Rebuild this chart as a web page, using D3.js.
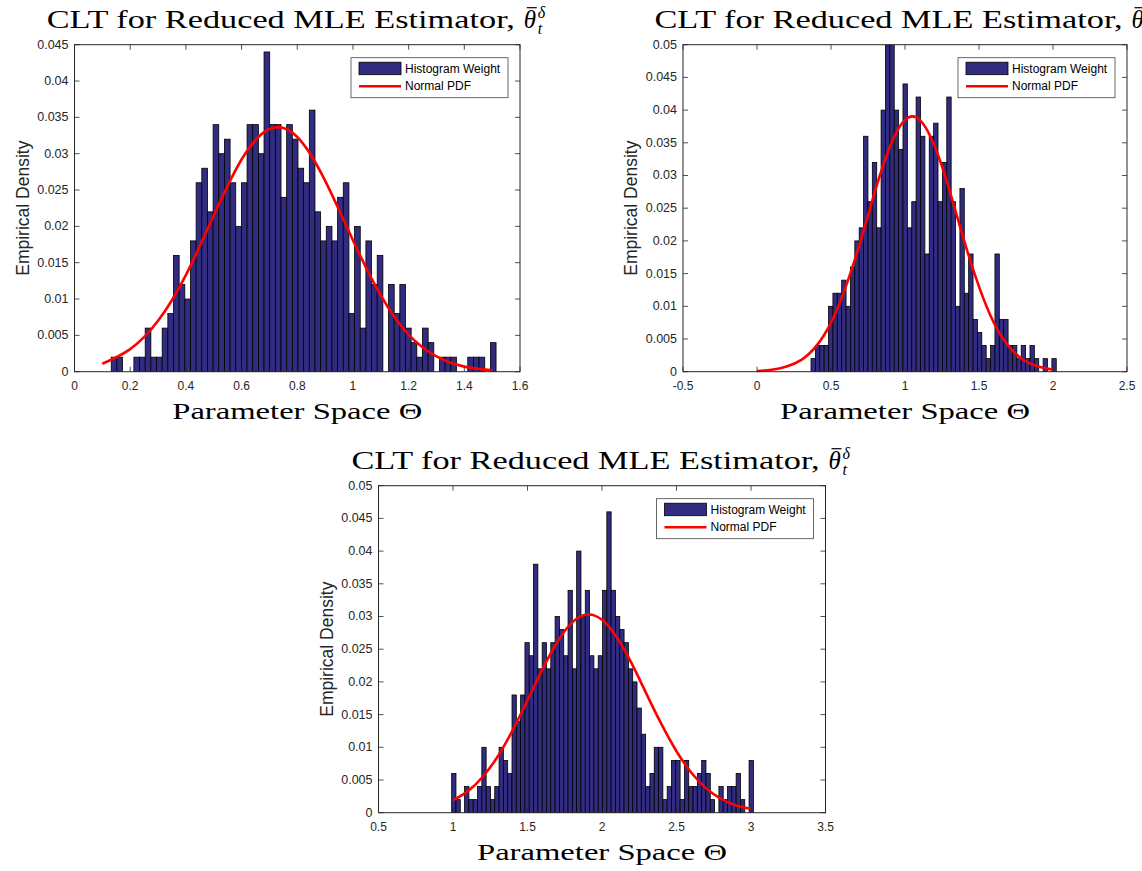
<!DOCTYPE html>
<html lang="en">
<head>
<meta charset="UTF-8" />
<title>CLT for Reduced MLE Estimator</title>
<script src="https://d3js.org/d3.v7.min.js"></script>
<style>
  body { margin: 0; background: #fff; }
  svg { display: block; }
</style>
</head>
<body>
<svg id="chart"></svg>
<script>
// ---- values ----

// panel 1 (top left)
var p1Range = [0.132, 1.514];   // first and last bin edge
var p1Density = [
  0.002, 0.002, 0, 0, 0.002, 0.002, 0.006, 0.002, 0.002, 0.006,
  0.008, 0.016, 0.012, 0.010, 0.018, 0.026, 0.028, 0.022, 0.034, 0.030,
  0.032, 0.026, 0.020, 0.026, 0.034, 0.034, 0.030, 0.044, 0.034, 0.034,
  0.024, 0.034, 0.032, 0.028, 0.026, 0.036, 0.022, 0.018, 0.020, 0.018,
  0.024, 0.026, 0.008, 0.020, 0.006, 0.018, 0.012, 0.016, 0, 0.012,
  0.008, 0.012, 0.006, 0.004, 0.002, 0.006, 0.004, 0, 0.002, 0.002,
  0.002, 0, 0, 0.002, 0.002, 0.002, 0, 0.004
];
var p1CurveX = [0.1, 0.2, 0.3, 0.4, 0.5, 0.6, 0.7, 0.8, 0.9, 1.0, 1.1, 1.2, 1.3, 1.4, 1.5];
var p1CurveY = [0.0011, 0.0031, 0.0070, 0.0133, 0.0215, 0.0292, 0.0334, 0.0323, 0.0263, 0.0181, 0.0105, 0.0051, 0.0021, 0.0007, 0.0002];
var p1XTicks = [0, 0.2, 0.4, 0.6, 0.8, 1, 1.2, 1.4, 1.6];
var p1YTicks = [0, 0.005, 0.01, 0.015, 0.02, 0.025, 0.03, 0.035, 0.04, 0.045];

// panel 2 (top right)
var p2Range = [0.365, 2.022];
var p2Density = [
  0.002, 0.004, 0.004, 0.004, 0.010, 0.012, 0.012, 0.014, 0.010, 0.016,
  0.020, 0.022, 0.036, 0.026, 0.032, 0.022, 0.040, 0.050, 0.050, 0.040,
  0.034, 0.044, 0.022, 0.026, 0.042, 0.036, 0.018, 0.036, 0.038, 0.026,
  0.032, 0.042, 0.026, 0.010, 0.028, 0.012, 0.018, 0.008, 0.006, 0.004,
  0.002, 0.004, 0.018, 0.008, 0.008, 0.004, 0.004, 0.002, 0.004, 0.002,
  0.004, 0.002, 0, 0.002, 0, 0.002
];
var p2CurveX = [0, 0.1, 0.2, 0.3, 0.4, 0.5, 0.6, 0.7, 0.8, 0.9, 1.0, 1.1, 1.2, 1.3, 1.4, 1.5, 1.6, 1.7, 1.8, 1.9, 2.0];
var p2CurveY = [0.0001, 0.0003, 0.0008, 0.0018, 0.0039, 0.0075, 0.0130, 0.0200, 0.0278, 0.0345, 0.0385, 0.0385, 0.0345, 0.0278, 0.0200, 0.0130, 0.0075, 0.0039, 0.0018, 0.0008, 0.0003];
var p2XTicks = [-0.5, 0, 0.5, 1, 1.5, 2, 2.5];
var p2YTicks = [0, 0.005, 0.01, 0.015, 0.02, 0.025, 0.03, 0.035, 0.04, 0.045, 0.05];

// panel 3 (bottom)
var p3Range = [0.991, 3.016];
var p3Density = [
  0.006, 0.002, 0, 0.004, 0.002, 0.002, 0.004, 0.010, 0.004, 0.002,
  0.004, 0.010, 0.008, 0.006, 0.018, 0.014, 0.018, 0.026, 0.024, 0.038,
  0.022, 0.026, 0.022, 0.026, 0.030, 0.028, 0.024, 0.034, 0.022, 0.040,
  0.030, 0.034, 0.024, 0.022, 0.024, 0.034, 0.046, 0.034, 0.030, 0.028,
  0.026, 0.022, 0.020, 0.016, 0.012, 0.004, 0.006, 0.010, 0.010, 0.002,
  0.004, 0.008, 0.008, 0.002, 0.008, 0.004, 0.004, 0.006, 0.008, 0.006,
  0.002, 0, 0.004, 0.002, 0.004, 0.004, 0.006, 0.002, 0, 0.008
];
var p3CurveX = [1.0, 1.1, 1.2, 1.3, 1.4, 1.5, 1.6, 1.7, 1.8, 1.9, 2.0, 2.1, 2.2, 2.3, 2.4, 2.5, 2.6, 2.7, 2.8, 2.9, 3.0];
var p3CurveY = [0.0019, 0.0033, 0.0055, 0.0086, 0.0126, 0.0172, 0.0219, 0.0261, 0.0291, 0.0303, 0.0295, 0.0268, 0.0228, 0.0181, 0.0135, 0.0094, 0.0061, 0.0037, 0.0021, 0.0011, 0.0006];
var p3XTicks = [0.5, 1, 1.5, 2, 2.5, 3, 3.5];
var p3YTicks = [0, 0.005, 0.01, 0.015, 0.02, 0.025, 0.03, 0.035, 0.04, 0.045, 0.05];

var titleText = "CLT for Reduced MLE Estimator,";
var xLabelText = "Parameter Space \u0398";
var yLabelText = "Empirical Density";
var legendLabels = ["Histogram Weight", "Normal PDF"];

// ---- layout ----
var width = 1142, height = 871;
var barColor = "#312c80";
var axisColor = "#262626";
var serif = "'Liberation Serif', 'DejaVu Serif', serif";
var sans = "'Liberation Sans', Arial, sans-serif";

var panels = [
  { left: 74.5, top: 44.7, w: 445.5, h: 327, range: p1Range, density: p1Density,
    cx: p1CurveX, cy: p1CurveY, xTicks: p1XTicks, yTicks: p1YTicks },
  { left: 683, top: 44.7, w: 444, h: 327, range: p2Range, density: p2Density,
    cx: p2CurveX, cy: p2CurveY, xTicks: p2XTicks, yTicks: p2YTicks },
  { left: 378.5, top: 485.7, w: 447, h: 327, range: p3Range, density: p3Density,
    cx: p3CurveX, cy: p3CurveY, xTicks: p3XTicks, yTicks: p3YTicks }
];

var svg = d3.select("#chart")
  .attr("width", width)
  .attr("height", height);

function fmt(d) { return String(+d.toFixed(4)); }

panels.forEach(function (p) {
  var g = svg.append("g").attr("transform", "translate(" + p.left + "," + p.top + ")");

  var x = d3.scaleLinear()
    .domain(d3.extent(p.xTicks))
    .range([0, p.w]);
  var y = d3.scaleLinear()
    .domain(d3.extent(p.yTicks))
    .range([p.h, 0]);

  // clip so nothing pokes out of the box
  var clipId = "clip" + Math.round(p.left);
  g.append("clipPath").attr("id", clipId)
    .append("rect").attr("width", p.w).attr("height", p.h);

  // histogram bars (empty bins are kept but hidden so the index stays right)
  var n = p.density.length;
  var bw = (p.range[1] - p.range[0]) / n;
  g.append("g").attr("clip-path", "url(#" + clipId + ")")
    .selectAll("rect")
    .data(p.density)
    .enter()
    .append("rect")
    .attr("x", function (d, i) { return x(p.range[0] + i * bw); })
    .attr("width", x(p.range[0] + bw) - x(p.range[0]))
    .attr("y", function (d) { return y(d); })
    .attr("height", function (d) { return y(0) - y(d); })
    .attr("display", function (d) { return d > 0 ? null : "none"; })
    .attr("fill", barColor)
    .attr("stroke", "#000")
    .attr("stroke-width", 0.8);

  // normal pdf
  var line = d3.line()
    .x(function (d) { return x(d[0]); })
    .y(function (d) { return y(d[1]); })
    .curve(d3.curveNatural);
  g.append("path")
    .datum(d3.zip(p.cx, p.cy))
    .attr("d", line)
    .attr("fill", "none")
    .attr("stroke", "#ff0000")
    .attr("stroke-width", 2.6);

  // axes: ticks point inward, on all four sides
  var tickLen = 5;
  var ax = g.append("g").attr("stroke", axisColor).attr("stroke-width", 0.8);
  p.xTicks.forEach(function (t) {
    ax.append("line").attr("x1", x(t)).attr("x2", x(t)).attr("y1", p.h).attr("y2", p.h - tickLen);
    ax.append("line").attr("x1", x(t)).attr("x2", x(t)).attr("y1", 0).attr("y2", tickLen);
  });
  p.yTicks.forEach(function (t) {
    ax.append("line").attr("x1", 0).attr("x2", tickLen).attr("y1", y(t)).attr("y2", y(t));
    ax.append("line").attr("x1", p.w).attr("x2", p.w - tickLen).attr("y1", y(t)).attr("y2", y(t));
  });
  g.append("rect")
    .attr("width", p.w).attr("height", p.h)
    .attr("fill", "none").attr("stroke", axisColor).attr("stroke-width", 1);

  g.append("g").selectAll("text")
    .data(p.xTicks).enter().append("text")
    .attr("x", function (d) { return x(d); })
    .attr("y", p.h + 18)
    .attr("text-anchor", "middle")
    .style("font-family", sans).style("font-size", "12px").attr("fill", axisColor)
    .text(fmt);
  g.append("g").selectAll("text")
    .data(p.yTicks).enter().append("text")
    .attr("x", -6)
    .attr("y", function (d) { return y(d) + 4; })
    .attr("text-anchor", "end")
    .style("font-family", sans).style("font-size", "12.5px").attr("fill", axisColor)
    .text(fmt);

  // labels
  g.append("text")
    .attr("transform", "translate(-46," + (p.h / 2) + ") rotate(-90)")
    .attr("text-anchor", "middle")
    .style("font-family", sans).style("font-size", "17.5px").attr("fill", axisColor)
    .text(yLabelText);
  g.append("text")
    .attr("x", p.w / 2).attr("y", p.h + 47)
    .attr("text-anchor", "middle")
    .attr("textLength", 250).attr("lengthAdjust", "spacingAndGlyphs")
    .style("font-family", serif).style("font-size", "24px").attr("fill", "#000")
    .text(xLabelText);

  // title with theta-bar, sub t, sup delta
  var tg = g.append("g");
  var mainW = 468, gap = 9, thetaW = 13, scriptW = 11;
  var total = mainW + gap + thetaW + scriptW;
  var x0 = p.w / 2 - total / 2, by = -17;
  tg.append("text")
    .attr("x", x0).attr("y", by)
    .attr("textLength", mainW).attr("lengthAdjust", "spacingAndGlyphs")
    .style("font-family", serif).style("font-size", "25px")
    .text(titleText);
  var tx = x0 + mainW + gap;
  tg.append("text")
    .attr("x", tx).attr("y", by)
    .style("font-family", serif).style("font-size", "25px").style("font-style", "italic")
    .text("\u03b8");
  tg.append("line")
    .attr("x1", tx + 3).attr("x2", tx + 13)
    .attr("y1", by - 20).attr("y2", by - 20)
    .attr("stroke", "#000").attr("stroke-width", 1.2);
  tg.append("text")
    .attr("x", tx + thetaW + 1).attr("y", by - 10)
    .style("font-family", serif).style("font-size", "16px").style("font-style", "italic")
    .text("\u03b4");
  tg.append("text")
    .attr("x", tx + thetaW + 1).attr("y", by + 6)
    .style("font-family", serif).style("font-size", "16px").style("font-style", "italic")
    .text("t");

  // legend
  var lw = 157, lh = 40;
  var lg = g.append("g").attr("transform", "translate(" + (p.w - 12 - lw) + ",13)");
  lg.append("rect").attr("width", lw).attr("height", lh)
    .attr("fill", "#fff").attr("stroke", "#444").attr("stroke-width", 0.8);
  lg.append("rect").attr("x", 8).attr("y", 4.5).attr("width", 42).attr("height", 12.5)
    .attr("fill", barColor).attr("stroke", "#000").attr("stroke-width", 0.8);
  lg.append("line").attr("x1", 8).attr("x2", 50).attr("y1", 28.5).attr("y2", 28.5)
    .attr("stroke", "#ff0000").attr("stroke-width", 2.6);
  lg.selectAll("text.leg").data(legendLabels).enter().append("text")
    .attr("x", 54).attr("y", function (d, i) { return 15 + i * 17.5; })
    .style("font-family", sans).style("font-size", "12px").attr("fill", "#000")
    .text(function (d) { return d; });
});
</script>
</body>
</html>
